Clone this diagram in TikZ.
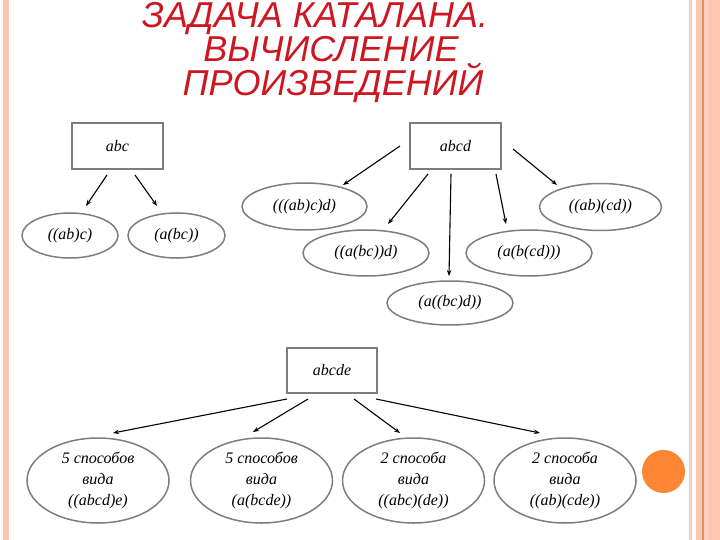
\documentclass[tikz,border=0pt]{standalone}
\usepackage{fontspec}
\setmainfont{Liberation Serif}
\newfontfamily\titlefont{Liberation Sans}
\usetikzlibrary{shapes.geometric,arrows.meta,calc}
\definecolor{titlered}{RGB}{205,22,32}
\definecolor{nodegray}{RGB}{125,125,125}
\definecolor{stripL}{RGB}{248,198,180}
\definecolor{stripP}{RGB}{242,208,198}
\definecolor{stripS}{RGB}{253,198,174}
\definecolor{stripS2}{RGB}{254,210,190}
\definecolor{stripD}{RGB}{222,146,104}
\definecolor{dotorange}{RGB}{252,134,52}
\begin{document}
\begin{tikzpicture}[x=1pt,y=-1pt,
  box/.style={draw=nodegray,line width=1.5pt,rectangle,inner sep=0pt,font=\fontsize{16}{18}\selectfont\itshape},
  oval/.style={draw=nodegray,line width=1.5pt,ellipse,inner sep=0pt,font=\fontsize{16}{18}\selectfont\itshape,align=center},
  bigoval/.style={oval,minimum width=142pt,minimum height=85pt,font=\fontsize{16}{21}\selectfont\itshape},
  arr/.style={-{Stealth[length=6pt,width=4.5pt]},line width=1.1pt,black},
  ttl/.style={anchor=base,inner sep=0pt,text=titlered,font=\titlefont\itshape\fontsize{36}{40}\selectfont}]
\useasboundingbox (0,0) rectangle (720,540);
\clip (0,0) rectangle (720,540);
% slide borders
\fill[stripL] (3,0) rectangle (9,540);
\fill[stripP] (689,0) rectangle (692,540);
\fill[stripS] (696,0) rectangle (720,540);
\fill[stripS2] (703.5,0) rectangle (708,540);
\fill[stripD] (702,0) rectangle (703.5,540);
% title
\node[ttl] (t1) at (315,28) {ЗАДАЧА КАТАЛАНА.};
\node[ttl] (t2) at (331,62) {ВЫЧИСЛЕНИЕ};
\node[ttl] (t3) at (333,96) {ПРОИЗВЕДЕНИЙ};
% abc
\node[box,minimum width=91pt,minimum height=46pt] (abc) at (117.5,146) {abc};
\node[oval,minimum width=96pt,minimum height=45pt] (e1) at (70,235.5) {((ab)c)};
\node[oval,minimum width=97pt,minimum height=45pt] (e2) at (176.5,235.5) {(a(bc))};
% abcd
\node[box,minimum width=91pt,minimum height=46pt] (abcd) at (455.5,146) {abcd};
\node[oval,minimum width=125pt,minimum height=47pt] (f1) at (304.5,206.5) {(((ab)c)d)};
\node[oval,minimum width=126pt,minimum height=46pt] (f2) at (366,253) {((a(bc))d)};
\node[oval,minimum width=126pt,minimum height=44pt] (f3) at (450,303) {(a((bc)d))};
\node[oval,minimum width=126pt,minimum height=46pt] (f4) at (529,253) {(a(b(cd)))};
\node[oval,minimum width=122pt,minimum height=47pt] (f5) at (600.5,207) {((ab)(cd))};
% abcde
\node[box,minimum width=90pt,minimum height=45pt] (abcde) at (332,370.5) {abcde};
\node[bigoval] (g1) at (98,480.5) {5 способов\\вида\\((abcd)e)};
\node[bigoval] (g2) at (261.5,480.5) {5 способов\\вида\\(a(bcde))};
\node[bigoval] (g3) at (413.5,480.5) {2 способа\\вида\\((abc)(de))};
\node[bigoval] (g4) at (565,480.5) {2 способа\\вида\\((ab)(cde))};
\fill[dotorange] (663.5,471.5) circle (21.5pt);
% arrows
\draw[arr] ($(abc)+(-10.5,29)$) -- ($(e1)+(16,-29.5)$);
\draw[arr] ($(abc)+(17.5,29)$) -- ($(e2)+(-19.5,-29.5)$);
\draw[arr] ($(abcd)+(-55.5,0)$) -- ($(f1)+(38.5,-21.5)$);
\draw[arr] ($(abcd)+(-27.5,28)$) -- ($(f2)+(22,-29)$);
\draw[arr] ($(abcd)+(-4.5,28)$) -- ($(f3)+(-1,-27)$);
\draw[arr] ($(abcd)+(40.5,28)$) -- ($(f4)+(-23,-29)$);
\draw[arr] ($(abcd)+(57.5,3)$) -- ($(f5)+(-43.5,-22)$);
\draw[arr] ($(abcde)+(-45,28.5)$) -- ($(g1)+(15,-47.5)$);
\draw[arr] ($(abcde)+(-24,28.5)$) -- ($(g2)+(-8.5,-48.5)$);
\draw[arr] ($(abcde)+(22,28.5)$) -- ($(g3)+(-13.5,-47.5)$);
\draw[arr] ($(abcde)+(44,28.5)$) -- ($(g4)+(-25,-47.5)$);
\end{tikzpicture}
\end{document}
